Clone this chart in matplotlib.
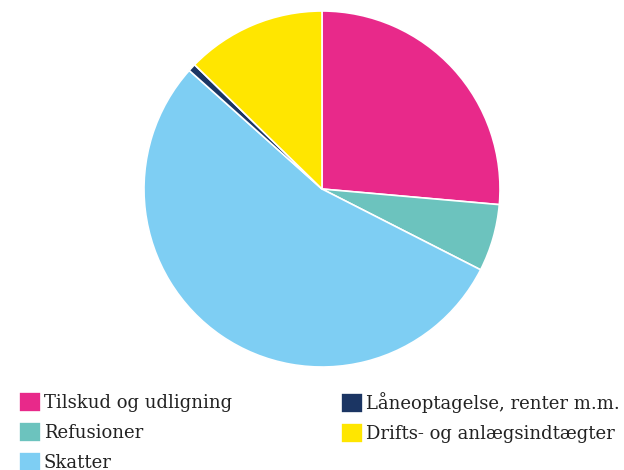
import matplotlib
matplotlib.use('Agg')
import matplotlib.pyplot as plt

labels = ['Tilskud og udligning', 'Refusioner', 'Skatter',
          'Låneoptagelse, renter m.m.', 'Drifts- og anlægsindtægter']
shares = [26.4, 6.1, 54.1, 0.7, 12.7]
colors = ['#E8298A', '#6CC3BE', '#7ECEF3', '#1B3563', '#FFE600']

plt.rcParams['font.family'] = ['DejaVu Serif']

W, H = 624, 470
fig = plt.figure(figsize=(W / 100, H / 100), dpi=100)

cx, cy, r = 322, 189, 178
ax = fig.add_axes([(cx - r) / W, (H - cy - r) / H, 2 * r / W, 2 * r / H])
wedges, _ = ax.pie(shares, colors=colors, startangle=90, counterclock=False,
                   radius=1.0,
                   wedgeprops=dict(edgecolor='white', linewidth=1.2))
ax.set_xlim(-1, 1)
ax.set_ylim(-1, 1)
ax.set_aspect('equal')
ax.axis('off')

common = dict(frameon=False, fontsize=13, handlelength=1.22,
              handleheight=1.3, handletextpad=0.15, labelspacing=0.55,
              borderpad=0, borderaxespad=0, loc='upper left')
leg1 = fig.legend(wedges[:3], labels[:3],
                  bbox_to_anchor=(19 / W, 1 - 392 / H), **common)
leg2 = fig.legend(wedges[3:], labels[3:],
                  bbox_to_anchor=(341 / W, 1 - 392 / H), **common)
for leg in (leg1, leg2):
    for t in leg.get_texts():
        t.set_color('#222222')

fig.savefig('out.png', dpi=100)
